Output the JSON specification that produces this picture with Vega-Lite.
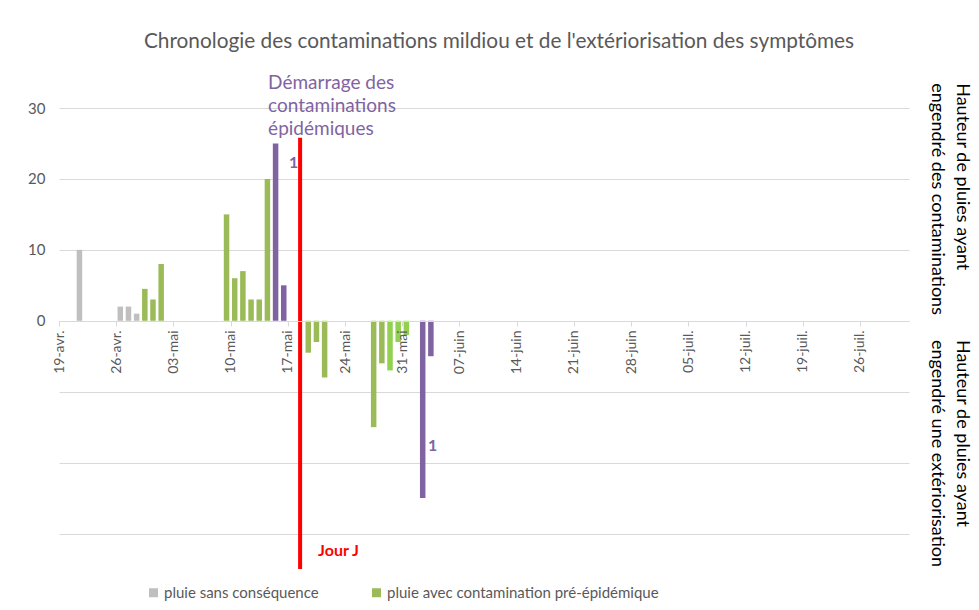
{
  "$schema": "https://vega.github.io/schema/vega-lite/v6.json",
  "autosize": "none",
  "width": 850,
  "height": 461,
  "padding": {"left": 59, "top": 108, "right": 70, "bottom": 41},
  "background": "white",
  "config": {
    "view": {"stroke": null},
    "font": "Lato",
    "locale": {
      "time": {
        "dateTime": "%A %e %B %Y à %X",
        "date": "%d/%m/%Y",
        "time": "%H:%M:%S",
        "periods": ["AM", "PM"],
        "days": ["dimanche", "lundi", "mardi", "mercredi", "jeudi", "vendredi", "samedi"],
        "shortDays": ["dim.", "lun.", "mar.", "mer.", "jeu.", "ven.", "sam."],
        "months": ["janvier", "février", "mars", "avril", "mai", "juin", "juillet", "août", "septembre", "octobre", "novembre", "décembre"],
        "shortMonths": ["janv.", "févr.", "mars", "avr.", "mai", "juin", "juil.", "août", "sept.", "oct.", "nov.", "déc."]
      }
    }
  },
  "title": {
    "text": "Chronologie des contaminations mildiou et de l'extériorisation des symptômes",
    "anchor": "middle",
    "dx": 15,
    "offset": 21,
    "fontSize": 20.8,
    "fontWeight": "normal",
    "font": "Lato",
    "color": "#595959"
  },
  "datasets": {
    "pluies": [
      {"date": "2021-04-21", "value": 10, "type": "pluie sans conséquence"},
      {"date": "2021-04-26", "value": 2, "type": "pluie sans conséquence"},
      {"date": "2021-04-27", "value": 2, "type": "pluie sans conséquence"},
      {"date": "2021-04-28", "value": 1, "type": "pluie sans conséquence"},
      {"date": "2021-04-29", "value": 4.5, "type": "pluie avec contamination pré-épidémique"},
      {"date": "2021-04-30", "value": 3, "type": "pluie avec contamination pré-épidémique"},
      {"date": "2021-05-01", "value": 8, "type": "pluie avec contamination pré-épidémique"},
      {"date": "2021-05-09", "value": 15, "type": "pluie avec contamination pré-épidémique"},
      {"date": "2021-05-10", "value": 6, "type": "pluie avec contamination pré-épidémique"},
      {"date": "2021-05-11", "value": 7, "type": "pluie avec contamination pré-épidémique"},
      {"date": "2021-05-12", "value": 3, "type": "pluie avec contamination pré-épidémique"},
      {"date": "2021-05-13", "value": 3, "type": "pluie avec contamination pré-épidémique"},
      {"date": "2021-05-14", "value": 20, "type": "pluie avec contamination pré-épidémique"},
      {"date": "2021-05-15", "value": 25, "type": "contamination épidémique génération 1"},
      {"date": "2021-05-16", "value": 5, "type": "contamination épidémique génération 1"},
      {"date": "2021-05-19", "value": -4.5, "type": "pluie avec contamination pré-épidémique"},
      {"date": "2021-05-20", "value": -3, "type": "pluie avec contamination pré-épidémique"},
      {"date": "2021-05-21", "value": -8, "type": "pluie avec contamination pré-épidémique"},
      {"date": "2021-05-27", "value": -15, "type": "pluie avec contamination pré-épidémique"},
      {"date": "2021-05-28", "value": -6, "type": "pluie avec contamination pré-épidémique"},
      {"date": "2021-05-29", "value": -7, "type": "pluie avec contamination épidémique"},
      {"date": "2021-05-30", "value": -3, "type": "pluie avec contamination épidémique"},
      {"date": "2021-05-31", "value": -2, "type": "pluie avec contamination épidémique"},
      {"date": "2021-06-02", "value": -25, "type": "contamination épidémique génération 1"},
      {"date": "2021-06-03", "value": -5, "type": "contamination épidémique génération 1"}
    ],
    "jourJ": [{"date": "2021-05-18", "label": "Jour J"}],
    "generations": [
      {"date": "2021-05-16", "value": 22.2, "label": "1"},
      {"date": "2021-06-02", "value": -17.7, "label": "1"}
    ]
  },
  "layer": [
    {
      "data": {"name": "pluies"},
      "mark": {"type": "bar", "width": 5.5},
      "encoding": {
        "x": {
          "field": "date",
          "type": "temporal",
          "timeUnit": "utcyearmonthdate",
          "bandPosition": 0.5,
          "title": null,
          "scale": {
            "type": "utc",
            "domain": [
              {"year": 2021, "month": 4, "date": 19, "utc": true},
              {"year": 2021, "month": 8, "date": 1, "utc": true}
            ]
          },
          "axis": {
            "orient": "bottom",
            "offset": -248,
            "zindex": 1,
            "format": "%d-%b",
            "values": [
              {"year": 2021, "month": 4, "date": 19, "utc": true},
              {"year": 2021, "month": 4, "date": 26, "utc": true},
              {"year": 2021, "month": 5, "date": 3, "utc": true},
              {"year": 2021, "month": 5, "date": 10, "utc": true},
              {"year": 2021, "month": 5, "date": 17, "utc": true},
              {"year": 2021, "month": 5, "date": 24, "utc": true},
              {"year": 2021, "month": 5, "date": 31, "utc": true},
              {"year": 2021, "month": 6, "date": 7, "utc": true},
              {"year": 2021, "month": 6, "date": 14, "utc": true},
              {"year": 2021, "month": 6, "date": 21, "utc": true},
              {"year": 2021, "month": 6, "date": 28, "utc": true},
              {"year": 2021, "month": 7, "date": 5, "utc": true},
              {"year": 2021, "month": 7, "date": 12, "utc": true},
              {"year": 2021, "month": 7, "date": 19, "utc": true},
              {"year": 2021, "month": 7, "date": 26, "utc": true}
            ],
            "labelAngle": -90,
            "labelFontSize": 14,
            "labelColor": "#595959",
            "labelFont": "Lato",
            "labelPadding": 4,
            "labelBound": false,
            "labelOverlap": false,
            "domainColor": "#D9D9D9",
            "tickColor": "#D9D9D9",
            "tickSize": 5,
            "grid": false
          }
        },
        "y": {
          "field": "value",
          "type": "quantitative",
          "title": null,
          "scale": {"domain": [-35, 30], "nice": false, "zero": true},
          "axis": {
            "values": [-30, -20, -10, 0, 10, 20, 30],
            "labelExpr": "datum.value >= 0 ? datum.label : ''",
            "grid": true,
            "gridColor": "#D9D9D9",
            "domain": false,
            "ticks": false,
            "labelPadding": 14,
            "labelFontSize": 15,
            "labelColor": "#595959",
            "labelFont": "Lato"
          }
        },
        "color": {
          "field": "type",
          "type": "nominal",
          "scale": {
            "domain": [
              "pluie sans conséquence",
              "pluie avec contamination pré-épidémique",
              "pluie avec contamination épidémique",
              "contamination épidémique génération 1"
            ],
            "range": ["#BFBFBF", "#9BBB59", "#92D050", "#8064A2"]
          },
          "legend": {
            "orient": "none",
            "legendX": 87,
            "legendY": 477,
            "direction": "horizontal",
            "title": null,
            "values": ["pluie sans conséquence", "pluie avec contamination pré-épidémique"],
            "symbolType": "square",
            "symbolSize": 81,
            "symbolStrokeWidth": 0,
            "labelFontSize": 15,
            "labelColor": "#595959",
            "labelFont": "Lato",
            "labelOffset": 3,
            "columnPadding": 50,
            "labelLimit": 400
          }
        }
      }
    },
    {
      "data": {"name": "jourJ"},
      "mark": {"type": "rule", "color": "#FF0000", "strokeWidth": 4},
      "encoding": {
        "x": {"field": "date", "type": "temporal", "timeUnit": "utcyearmonthdate", "bandPosition": 0.5, "title": null},
        "y": {"datum": 25.8, "type": "quantitative", "title": null},
        "y2": {"datum": -35}
      }
    },
    {
      "data": {"name": "jourJ"},
      "mark": {"type": "text", "color": "#FF0000", "fontWeight": "bold", "fontSize": 16, "font": "Lato", "align": "left", "baseline": "middle", "dx": 18},
      "encoding": {
        "x": {"field": "date", "type": "temporal", "timeUnit": "utcyearmonthdate", "bandPosition": 0.5, "title": null},
        "y": {"datum": -32.4, "type": "quantitative", "title": null},
        "text": {"field": "label"}
      }
    },
    {
      "data": {"name": "jourJ"},
      "mark": {"type": "text", "color": "#8064A2", "fontSize": 19, "font": "Lato", "align": "left", "baseline": "middle", "dx": -32, "lineBreak": "\n", "lineHeight": 23},
      "encoding": {
        "x": {"field": "date", "type": "temporal", "timeUnit": "utcyearmonthdate", "bandPosition": 0.5, "title": null},
        "y": {"datum": 33.5, "type": "quantitative", "title": null},
        "text": {"value": "Démarrage des\ncontaminations\népidémiques"}
      }
    },
    {
      "data": {"name": "generations"},
      "mark": {"type": "text", "color": "#8064A2", "fontWeight": "bold", "fontSize": 16, "font": "Lato", "align": "center", "baseline": "middle", "dx": 10},
      "encoding": {
        "x": {"field": "date", "type": "temporal", "timeUnit": "utcyearmonthdate", "bandPosition": 0.5, "title": null},
        "y": {"field": "value", "type": "quantitative", "title": null},
        "text": {"field": "label"}
      }
    },
    {
      "data": {"values": [
        {"date": "2021-08-01", "value": 33.5, "label": "Hauteur de pluies ayant\nengendré des contaminations"},
        {"date": "2021-08-01", "value": -2.7, "label": "Hauteur de pluies ayant\nengendré une extériorisation"}
      ]},
      "mark": {"type": "text", "color": "#000000", "fontSize": 18, "font": "Lato", "angle": 90, "align": "left", "baseline": "top", "dy": -62, "lineBreak": "\n", "lineHeight": 25},
      "encoding": {
        "x": {"field": "date", "type": "temporal", "timeUnit": "utcyearmonthdate", "title": null},
        "y": {"field": "value", "type": "quantitative", "title": null},
        "text": {"field": "label"}
      }
    }
  ]
}
